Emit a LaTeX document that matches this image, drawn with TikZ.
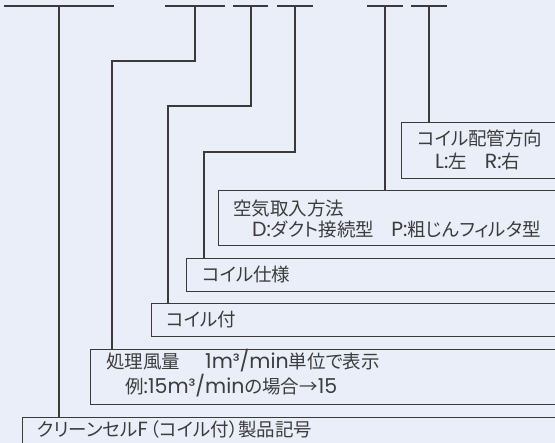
\documentclass[tikz,border=0pt]{standalone}
\usepackage{fontspec}
\setmainfont[RawFeature={+palt}]{Noto Sans CJK JP}
\newfontfamily\latfont{Poppins}
\newcommand{\latn}[1]{{\latfont\fontsize{20.5}{22}\selectfont #1}}
\definecolor{bgc}{HTML}{EAEEF8}
\definecolor{lnc}{HTML}{3A3A3A}
\definecolor{txc}{HTML}{3C3C3C}
\tikzset{
  ln/.style={draw=lnc, line width=1.2pt},
  codebox/.style={draw=lnc, line width=1.2pt, anchor=north west, minimum width=700pt, inner sep=0pt},
  lbl/.style={text=txc, inner sep=0pt, anchor=base west, font=\fontsize{18.5}{20}\selectfont},
}
\begin{document}
\begin{tikzpicture}[x=1pt,y=-1pt]
\useasboundingbox (0,0) rectangle (555,443);
\fill[bgc] (0,0) rectangle (555,443);
\clip (0,0) rectangle (555,443);
% top bars
\draw[ln] (4,6) -- (114,6);
\draw[ln] (165,6) -- (225,6);
\draw[ln] (233,6) -- (268,6);
\draw[ln] (277,6) -- (313,6);
\draw[ln] (367,6) -- (403,6);
\draw[ln] (411,6) -- (447,6);
\coordinate (t1) at (59,6);
\coordinate (t2) at (195,6);
\coordinate (t3) at (251,6);
\coordinate (t4) at (295,6);
\coordinate (t5) at (385,6);
\coordinate (t6) at (429,6);
% boxes
\node[codebox, minimum height=56pt] (bF) at (401,122) {};
\node[codebox, minimum height=55pt] (bE) at (218,190) {};
\node[codebox, minimum height=33pt] (bD) at (186,258) {};
\node[codebox, minimum height=33pt] (bC) at (151,303) {};
\node[codebox, minimum height=55pt] (bB) at (90,349) {};
\node[codebox, minimum height=50pt] (bA) at (22,417) {};
% connectors
\coordinate (k2) at (112,61);
\coordinate (k3) at (168,106);
\coordinate (k4) at (204,152);
\draw[ln] (t1) -- (t1 |- bA.north);
\draw[ln] (t2) |- (k2) -- (k2 |- bB.north);
\draw[ln] (t3) |- (k3) -- (k3 |- bC.north);
\draw[ln] (t4) |- (k4) -- (k4 |- bD.north);
\draw[ln] (t5) -- (t5 |- bE.north);
\draw[ln] (t6) -- (t6 |- bF.north);
% labels
\node[lbl] (lF1) at (417,145.5) {コイル配管方向};
\node[lbl] (lF2) at (435,168.5) {\latn{L:}左\hspace{18pt}\latn{R:}右};
\node[lbl] (lE1) at (233,216) {空気取入方法};
\node[lbl] (lE2) at (252,237) {\latn{D:}ダクト接続型\hspace{17pt}\latn{P:}粗じんフィルタ型};
\node[lbl] (lD) at (202,282) {コイル仕様};
\node[lbl] (lC) at (166,327) {コイル付};
\node[lbl] (lB1) at (106,369) {処理風量\hspace{25pt}\latn{1m³/min}単位で表示};
\node[lbl] (lB2) at (125,394) {例\latn{:15m³/min}の場合→\latn{15}};
\node[lbl] (lA) at (37,437) {クリーンセル\latn{F}\hspace{2pt}（コイル付）製品記号};
\end{tikzpicture}
\end{document}
